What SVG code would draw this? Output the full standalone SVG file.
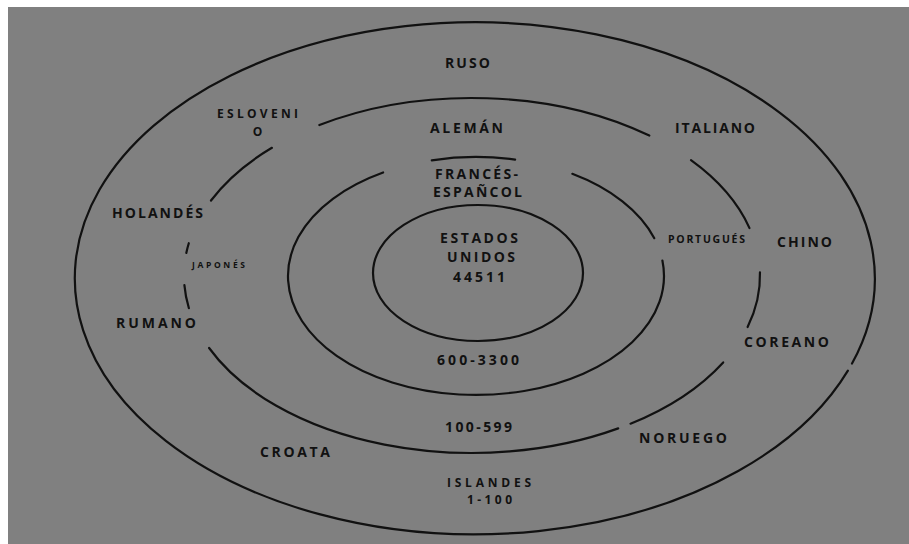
<svg xmlns="http://www.w3.org/2000/svg" width="909" height="544" viewBox="0 0 909 544">
<style>
.ring{fill:none;stroke:#111;stroke-width:2.2;stroke-linecap:round}
.t{font-family:"Open Sans",Lato,"Liberation Sans",sans-serif;font-weight:bold;font-size:14px;fill:#111;text-anchor:middle}
.m{font-size:12px}
.s{font-size:10.5px}
.xs{font-size:8.5px}
</style>
<rect x="0" y="0" width="909" height="544" fill="#ffffff"/>
<rect x="8" y="7" width="901" height="537" fill="#808080"/>
<g id="rings">
<path class="ring" d="M847.9,370.6 A400,256 0 1 1 852.0,363.5"/>
<path class="ring" d="M319.4,125.0 A288,177.5 0 0 1 649.3,135.6"/>
<path class="ring" d="M691.0,160.2 A288,177.5 0 0 1 749.5,228.1"/>
<path class="ring" d="M759.96,272.4 A288,177.5 0 0 1 747.6,327.1"/>
<path class="ring" d="M723.2,362.4 A288,177.5 0 0 1 630.5,423.7"/>
<path class="ring" d="M618.2,428.4 A288,177.5 0 0 1 209.1,348.0"/>
<path class="ring" d="M188.9,308.2 A288,177.5 0 0 1 184.4,285.1"/>
<path class="ring" d="M186.3,252.9 A288,177.5 0 0 1 188.8,243.2"/>
<path class="ring" d="M211.0,200.5 A288,177.5 0 0 1 271.9,147.8"/>
<path class="ring" d="M431.8,160.3 A188,119 0 0 1 515.1,159.6"/>
<path class="ring" d="M572.3,173.8 A188,119 0 0 1 654.3,238.2"/>
<path class="ring" d="M662.4,260.5 A188,119 0 1 1 383.1,172.5"/>
<ellipse class="ring" cx="478" cy="273" rx="105" ry="68"/>
</g>
<g id="labels">
<g id="ruso"><text class="t" x="467.5" y="68" textLength="45">RUSO</text></g>
<g id="esloveno"><text class="t m" x="257.5" y="118" textLength="81">ESLOVENI</text><text class="t m" x="257.5" y="135.5">O</text></g>
<g id="aleman"><text class="t" x="466.5" y="133" textLength="73">ALEMÁN</text></g>
<g id="italiano"><text class="t" x="715" y="133" textLength="80">ITALIANO</text></g>
<g id="frances"><text class="t" x="476.5" y="179" textLength="83">FRANCÉS-</text><text class="t" x="477.5" y="197" textLength="89">ESPAÑCOL</text></g>
<g id="portugues"><text class="t s" x="706.5" y="243" textLength="77">PORTUGUÉS</text></g>
<g id="chino"><text class="t" x="804.5" y="247" textLength="55">CHINO</text></g>
<g id="holandes"><text class="t" x="157.5" y="218" textLength="91">HOLANDÉS</text></g>
<g id="japones"><text class="t xs" x="218.5" y="268" textLength="53">JAPONÉS</text></g>
<g id="rumano"><text class="t" x="156" y="328" textLength="80">RUMANO</text></g>
<g id="usa"><text class="t" x="479" y="243" textLength="78">ESTADOS</text><text class="t" x="481" y="262" textLength="68">UNIDOS</text><text class="t" x="479" y="282" textLength="52">44511</text></g>
<g id="coreano"><text class="t" x="786.5" y="347" textLength="85">COREANO</text></g>
<g id="r600"><text class="t" x="478" y="365" textLength="82">600-3300</text></g>
<g id="noruego"><text class="t" x="683" y="443" textLength="88">NORUEGO</text></g>
<g id="r100"><text class="t" x="478.5" y="432" textLength="67">100-599</text></g>
<g id="croata"><text class="t" x="295" y="457" textLength="70">CROATA</text></g>
<g id="islandes"><text class="t m" x="489" y="487" textLength="84">ISLANDES</text><text class="t m" x="489.5" y="504" textLength="45">1-100</text></g>
</g>
</svg>
